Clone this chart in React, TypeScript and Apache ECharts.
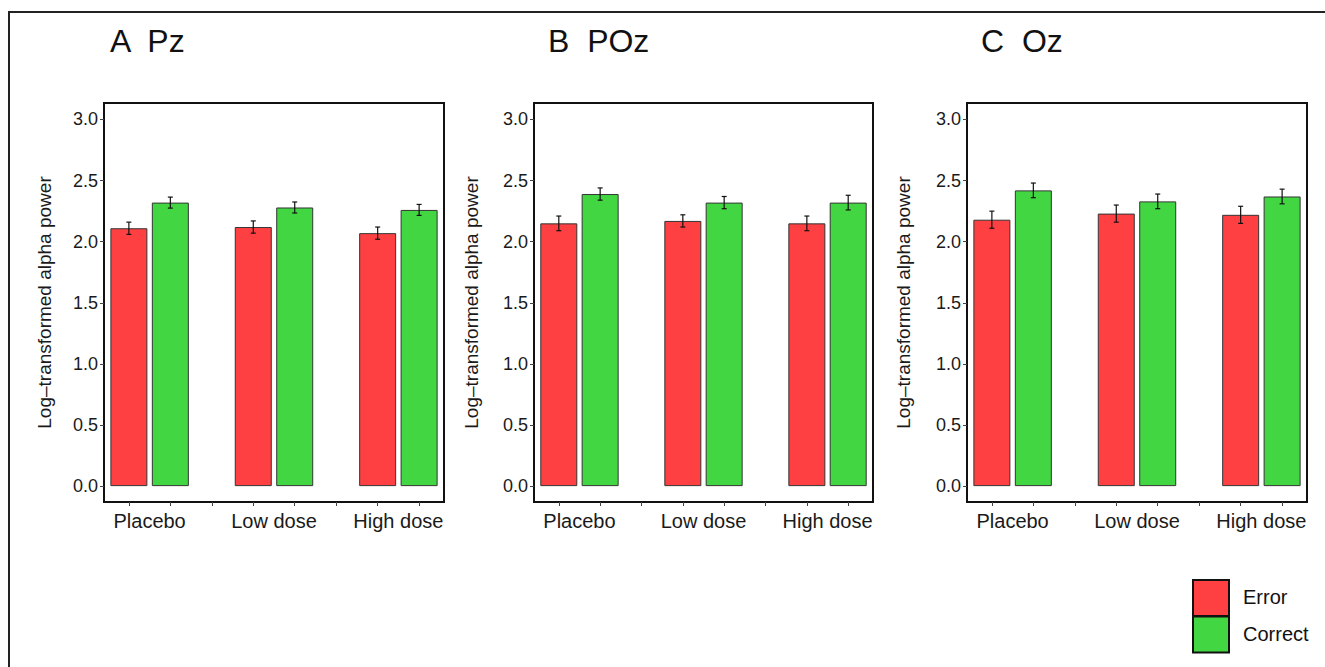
import React, { useEffect, useRef } from "react";
import * as echarts from "echarts";

const categories = ["Placebo", "Low dose", "High dose"];
const panelTitles = ["A  Pz", "B  POz", "C  Oz"];
const seriesNames = ["Error", "Correct"];
const yTicks = [0, 0.5, 1.0, 1.5, 2.0, 2.5, 3.0];
const yAxisTitle = "Log–transformed alpha power";

const pzError = [2.11, 2.12, 2.07];
const pzErrorSE = [0.05, 0.05, 0.05];
const pzCorrect = [2.32, 2.28, 2.26];
const pzCorrectSE = [0.045, 0.045, 0.045];

const pozError = [2.15, 2.17, 2.15];
const pozErrorSE = [0.06, 0.05, 0.06];
const pozCorrect = [2.39, 2.32, 2.32];
const pozCorrectSE = [0.05, 0.05, 0.06];

const ozError = [2.18, 2.23, 2.22];
const ozErrorSE = [0.07, 0.07, 0.07];
const ozCorrect = [2.42, 2.33, 2.37];
const ozCorrectSE = [0.06, 0.06, 0.06];

const RED = "#FF4043";
const GREEN = "#42D742";
const FONT = "'Liberation Sans', Arial, Helvetica, sans-serif";
const TEXT = "#1a1a1a";

const panelData = [
  [pzError, pzErrorSE, pzCorrect, pzCorrectSE],
  [pozError, pozErrorSE, pozCorrect, pozCorrectSE],
  [ozError, ozErrorSE, ozCorrect, ozCorrectSE],
];

const gridLefts = [104, 534, 967];
const gridWidths = [340, 339, 340];
const titleX = [110, 548, 981];
const nameGaps = [50, 53, 54];

export default function App() {
  const ref = useRef<HTMLDivElement>(null);

  useEffect(() => {
    if (!ref.current) return;
    const chart = echarts.init(ref.current, null, { renderer: "svg" });

    const grids: any[] = [];
    const xAxes: any[] = [];
    const yAxes: any[] = [];
    const series: any[] = [];

    panelData.forEach((pd, i) => {
      const [errM, errSE, corM, corSE] = pd;
      grids.push({
        left: gridLefts[i],
        top: 103,
        width: gridWidths[i],
        height: 399,
        show: true,
        borderColor: "#111",
        borderWidth: 2,
        backgroundColor: "transparent",
      });
      xAxes.push({
        gridIndex: i,
        type: "value",
        min: 0.4,
        max: 8.6,
        axisLine: { show: true, onZero: false, lineStyle: { color: "#111", width: 2 } },
        axisTick: {
          show: true,
          length: 4,
          customValues: [1, 2, 3, 4, 5, 6, 7, 8],
          lineStyle: { color: "#444", width: 1 },
        },
        axisLabel: {
          customValues: [1.5, 4.5, 7.5],
          formatter: (v: number) => categories[Math.round((v - 1.5) / 3)],
          fontSize: 20,
          fontFamily: FONT,
          color: TEXT,
          margin: 9,
        },
        splitLine: { show: false },
      });
      yAxes.push({
        gridIndex: i,
        type: "value",
        min: -0.13,
        max: 3.135,
        axisLine: { show: true, onZero: false, lineStyle: { color: "#111", width: 2 } },
        axisTick: {
          show: true,
          length: 4,
          customValues: yTicks,
          lineStyle: { color: "#444", width: 1 },
        },
        axisLabel: {
          customValues: yTicks,
          formatter: (v: number) => v.toFixed(1),
          fontSize: 18,
          fontFamily: FONT,
          color: TEXT,
          margin: 6,
        },
        splitLine: { show: false },
        name: yAxisTitle,
        nameLocation: "middle",
        nameGap: nameGaps[i],
        nameTextStyle: { fontSize: 19, fontFamily: FONT, color: TEXT },
      });

      const barData: any[] = [];
      const errData: any[] = [];
      categories.forEach((_, g) => {
        barData.push({ value: [g * 3 + 1, errM[g]], itemStyle: { color: RED } });
        barData.push({ value: [g * 3 + 2, corM[g]], itemStyle: { color: GREEN } });
        errData.push([g * 3 + 1, errM[g], errSE[g]]);
        errData.push([g * 3 + 2, corM[g], corSE[g]]);
      });

      series.push({
        type: "bar",
        name: "bars" + i,
        xAxisIndex: i,
        yAxisIndex: i,
        barWidth: 37,
        data: barData,
        itemStyle: { borderColor: "#333", borderWidth: 1 },
      });
      series.push({
        type: "custom",
        name: "err" + i,
        xAxisIndex: i,
        yAxisIndex: i,
        data: errData,
        encode: { x: 0, y: 1 },
        z: 5,
        renderItem: (params: any, api: any) => {
          const x = api.value(0);
          const m = api.value(1);
          const e = api.value(2);
          const hi = api.coord([x, m + e]);
          const lo = api.coord([x, m - e]);
          const cx = hi[0];
          const hw = 2.5;
          const style = { stroke: "#111", lineWidth: 1.2 };
          return {
            type: "group",
            children: [
              { type: "line", shape: { x1: cx, y1: hi[1], x2: cx, y2: lo[1] }, style },
              { type: "line", shape: { x1: cx - hw, y1: hi[1], x2: cx + hw, y2: hi[1] }, style },
              { type: "line", shape: { x1: cx - hw, y1: lo[1], x2: cx + hw, y2: lo[1] }, style },
            ],
          };
        },
      });
    });

    const graphics: any[] = [
      {
        type: "rect",
        shape: { x: 9, y: 12, width: 1340, height: 700 },
        style: { fill: "none", stroke: "#222", lineWidth: 2 },
        silent: true,
      },
    ];
    panelTitles.forEach((t, i) => {
      graphics.push({
        type: "text",
        x: titleX[i],
        y: 41,
        style: {
          text: t,
          fontSize: 32,
          fontFamily: FONT,
          fill: "#111",
          verticalAlign: "middle",
          textAlign: "left",
        },
      });
    });
    const legendColors = [RED, GREEN];
    seriesNames.forEach((n, k) => {
      graphics.push({
        type: "rect",
        shape: { x: 1193, y: 580 + k * 36.5, width: 36, height: 36 },
        style: { fill: legendColors[k], stroke: "#111", lineWidth: 2 },
      });
      graphics.push({
        type: "text",
        x: 1243,
        y: 597 + k * 36.5,
        style: {
          text: n,
          fontSize: 20,
          fontFamily: FONT,
          fill: "#111",
          verticalAlign: "middle",
          textAlign: "left",
        },
      });
    });

    chart.setOption({
      animation: false,
      backgroundColor: "#ffffff",
      textStyle: { fontFamily: FONT },
      grid: grids,
      xAxis: xAxes,
      yAxis: yAxes,
      series,
      graphic: graphics,
    });

    return () => chart.dispose();
  }, []);

  return (
    <div
      ref={ref}
      style={{ position: "absolute", left: 0, top: 0, width: 1325, height: 667 }}
    />
  );
}
